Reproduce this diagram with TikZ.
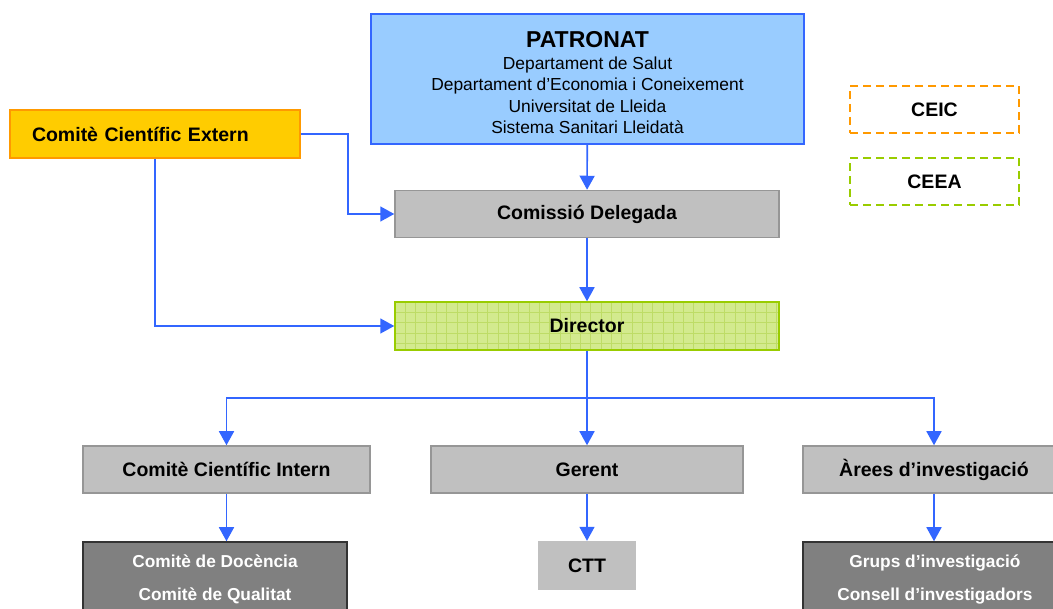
\documentclass[tikz,border=0pt]{standalone}
\usepackage{fontspec}
\setmainfont{Liberation Sans}
\usetikzlibrary{arrows.meta,positioning,calc}

\definecolor{patblue}{HTML}{99CCFF}
\definecolor{linkblue}{HTML}{3366FF}
\definecolor{extfill}{HTML}{FFCC00}
\definecolor{extline}{HTML}{FF9900}
\definecolor{boxgray}{HTML}{C0C0C0}
\definecolor{linegray}{HTML}{969696}
\definecolor{darkfill}{HTML}{808080}
\definecolor{darkline}{HTML}{333333}
\definecolor{dirgreen}{HTML}{99CC00}
\definecolor{dirfill}{HTML}{D3EA8E}
\definecolor{dirgrid}{HTML}{BEDC66}

\begin{document}
\begin{tikzpicture}[x=1pt, y=-1pt, > = {Triangle[length=14pt,width=15pt]}]
            % Estils per als nodes
            \tikzstyle{box}=[inner sep=0pt, align=center, font=\fontsize{19.5}{23}\selectfont\bfseries]
            \tikzstyle{graybox}=[box, draw=linegray, fill=boxgray, line width=1.5pt, minimum height=47pt]
            \tikzstyle{darkbox}=[box, draw=darkline, fill=darkfill, line width=1.5pt, text=white,
                                 minimum width=264pt, minimum height=75pt, font=\fontsize{17.3}{33}\selectfont\bfseries]
            \tikzstyle{dashbox}=[box, line width=2pt, dash pattern=on 8pt off 5pt, minimum width=169pt, minimum height=47pt]
            \tikzstyle{link}=[draw=linkblue, line width=1.6pt]

            \useasboundingbox (0,0) rectangle (1053,609);
            \clip (0,0) rectangle (1053,609);

            % Nodes
            \node[box, draw=linkblue, fill=patblue, line width=1.5pt, minimum width=433pt, minimum height=130pt,
                  font=\fontsize{17.4}{21.5}\selectfont] (patronat) at (587.5,79)
                 {\rule{0pt}{23.5pt}{\fontsize{23}{21.5}\selectfont\bfseries PATRONAT}\\
                  Departament de Salut\\
                  Departament d’Economia i Coneixement\\
                  Universitat de Lleida\\
                  Sistema Sanitari Lleidatà};
            \node[box, draw=extline, fill=extfill, line width=1.5pt, minimum height=48pt,
                  text width=246pt, inner xsep=22pt, align=left] (extern) at (155,134) {Comitè Científic Extern};
            \node[dashbox, draw=extline] (ceic) at (934.5,109.5) {CEIC};
            \node[dashbox, draw=dirgreen] (ceea) at (934.5,182) {CEEA};
            \node[graybox, minimum width=384pt] (delegada) at (587,214) {Comissió Delegada};
            \node[box, draw=dirgreen, fill=dirfill, line width=1.5pt, minimum width=384pt, minimum height=48pt,
                  path picture={\draw[dirgrid, line width=0.7pt] (path picture bounding box.north west)
                                grid[step=10.3pt] (path picture bounding box.south east);}] (director) at (587,326) {Director};
            \node[graybox, minimum width=287pt] (intern) at (226.5,469.5) {Comitè Científic Intern};
            \node[graybox, minimum width=312pt] (gerent) at (587,469.5) {Gerent};
            \node[graybox, minimum width=262pt] (arees) at (934,469.5) {Àrees d’investigació};
            \node[darkbox] (docencia) at (215,579.5) {Comitè de Docència\\ Comitè de Qualitat};
            \node[box, fill=boxgray, minimum width=98pt, minimum height=49pt] (ctt) at (587,565.5) {CTT};
            \node[darkbox] (grups) at (935,579.5) {Grups d’investigació\\ Consell d’investigadors};

            \coordinate (split) at (587,398);

            % Connexions
            \draw[link, ->] (patronat) -- (delegada);
            \draw[link, ->] (delegada) -- (director);
            \draw[link, ->] (extern.east) -- ++(47,0) |- (delegada.west);
            \draw[link, ->] (extern.south) |- (director.west);
            \draw[link] (director.south) -- (split);
            \draw[link, ->] (split) -| (intern.north);
            \draw[link, ->] (split) -- (gerent.north);
            \draw[link, ->] (split) -| (arees.north);
            \draw[link, ->] (intern.south) -- (intern.south |- docencia.north);
            \draw[link, ->] (gerent) -- (ctt);
            \draw[link, ->] (arees.south) -- (arees.south |- grups.north);
        \end{tikzpicture}
\end{document}
